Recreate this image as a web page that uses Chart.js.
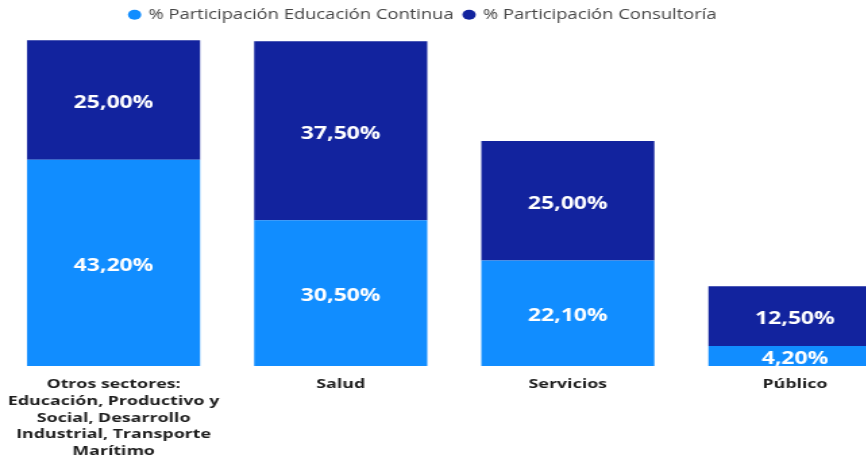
<!DOCTYPE html>
<html>
<head>
<meta charset="utf-8">
<script src="https://cdn.jsdelivr.net/npm/chart.js@4"></script>
<style>
  html, body { margin: 0; padding: 0; background: #fff; overflow: hidden; }
  #wrap { width: 866px; height: 459px; overflow: hidden; }
  /* the reference is stretched sideways, so the canvas is too */
  #chart { transform: scaleX(1.35); transform-origin: 0 0; }
</style>
</head>
<body>
<div id="wrap"><canvas id="chart" width="673" height="459"></canvas></div>
<script>
var categories = [
  ["Otros sectores:", "Educación, Productivo y", "Social, Desarrollo", "Industrial, Transporte", "Marítimo"],
  "Salud",
  "Servicios",
  "Público"
];
var educacionContinua = [43.2, 30.5, 22.1, 4.2];
var consultoria = [25.0, 37.5, 25.0, 12.5];

var barLabels = {
  id: "barLabels",
  afterDatasetsDraw(chart) {
    var ctx = chart.ctx;
    ctx.save();
    ctx.font = 'bold 17px "Open Sans"';
    ctx.fillStyle = "#ffffff";
    ctx.textAlign = "center";
    ctx.textBaseline = "middle";
    chart.data.datasets.forEach(function (ds, i) {
      chart.getDatasetMeta(i).data.forEach(function (bar, j) {
        var txt = ds.data[j].toFixed(2).replace(".", ",") + "%";
        ctx.fillText(txt, bar.x, (bar.y + bar.base) / 2 + 3);
      });
    });
    ctx.restore();
  }
};

// legend sits a bit left of the canvas centre in the reference
var legendShift = {
  id: "legendShift",
  afterLayout(chart) {
    chart.legend.left -= 23;
    chart.legend.right -= 23;
  }
};

new Chart(document.getElementById("chart"), {
  type: "bar",
  data: {
    labels: categories,
    datasets: [{
      label: "% Participación Educación Continua",
      data: educacionContinua,
      backgroundColor: "#118DFF"
    }, {
      label: "% Participación Consultoría",
      data: consultoria,
      backgroundColor: "#12239E"
    }]
  },
  options: {
    responsive: false,
    animation: false,
    devicePixelRatio: 1,
    layout: { padding: 0 },
    datasets: { bar: { categoryPercentage: 1, barPercentage: 0.762 } },
    plugins: {
      tooltip: { enabled: false },
      legend: {
        position: "top",
        labels: {
          usePointStyle: true,
          pointStyle: "circle",
          boxWidth: 7,
          boxHeight: 7,
          padding: 8,
          color: "#444444",
          font: { family: "Open Sans", size: 13.6 }
        }
      }
    },
    scales: {
      x: {
        stacked: true,
        grid: { display: false },
        border: { display: false },
        ticks: {
          color: "#1e1e1e",
          padding: 2,
          maxRotation: 0,
          autoSkip: false,
          font: { family: "Open Sans", size: 13.2, weight: "bold", lineHeight: 1.27 }
        },
        afterFit(scale) { scale.height = 93; }
      },
      y: {
        stacked: true,
        display: false,
        min: 0,
        max: 70
      }
    }
  },
  plugins: [barLabels, legendShift]
});
</script>
</body>
</html>
